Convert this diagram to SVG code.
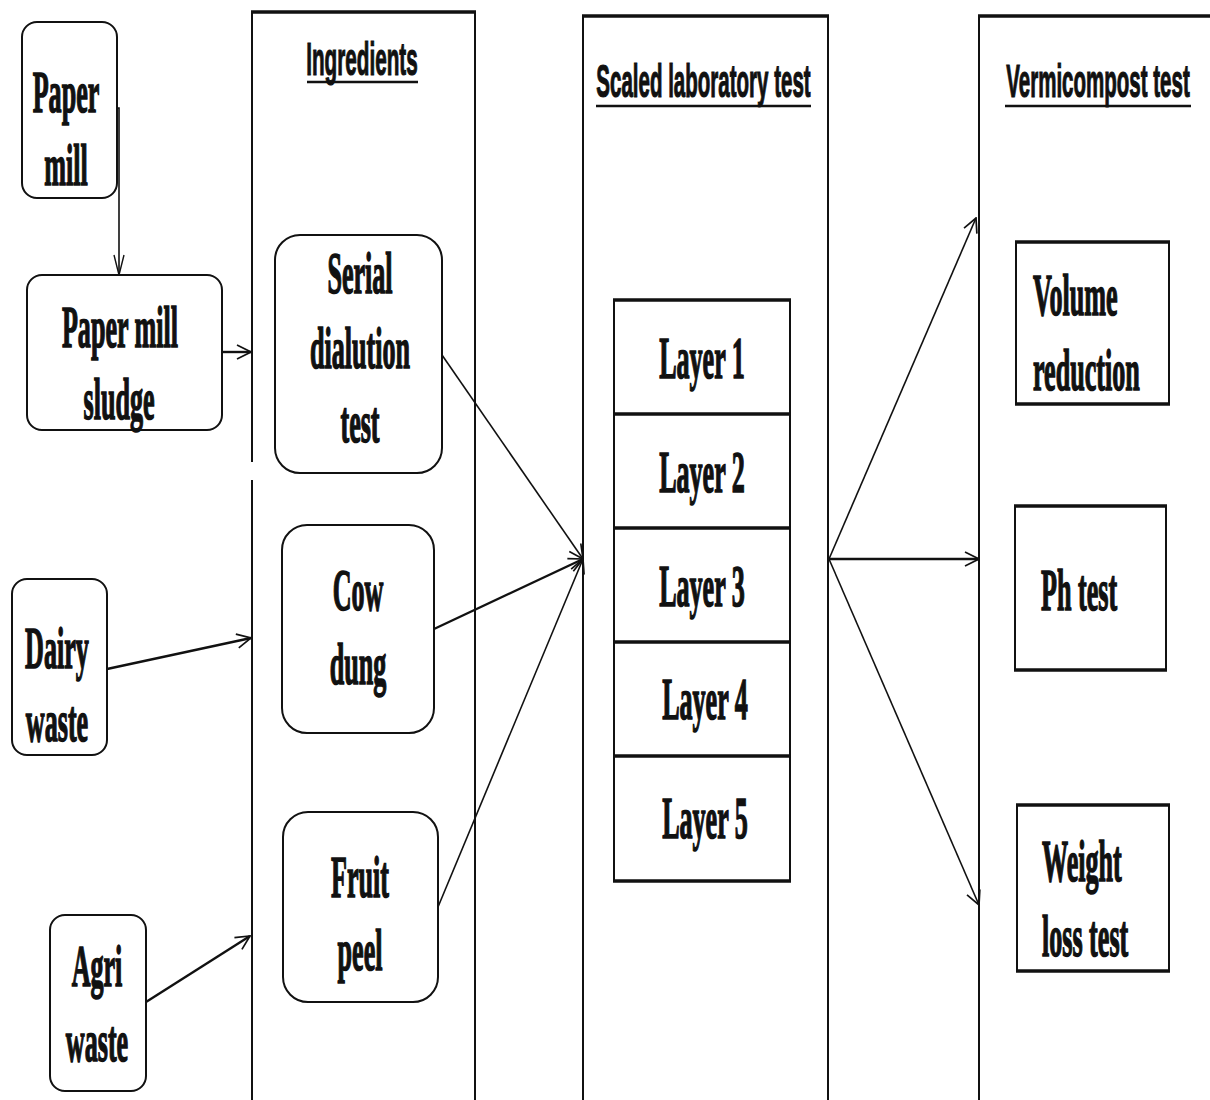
<svg xmlns="http://www.w3.org/2000/svg" width="1210" height="1100" viewBox="0 0 1210 1100">
<defs>
<style>
.bg{fill:#fff}
.node{fill:#fff;stroke:#111;stroke-width:2}
.panel{fill:none;stroke:#111;stroke-width:2}
.thick{stroke:#111;stroke-width:3.5;fill:none}
.t{font-family:"Liberation Serif","Times New Roman",serif;font-weight:bold;font-size:60px;fill:#111;stroke:#111;stroke-width:1.6}
.c{text-anchor:middle}
.h{font-family:"Liberation Sans",Arial,sans-serif;font-weight:bold;font-size:46px;fill:#111;stroke:#111;stroke-width:1.2;text-anchor:middle}
.ul{stroke:#111;stroke-width:2.5}
.conn{fill:none;stroke:#111;stroke-width:1.6}
.connb{fill:none;stroke:#111;stroke-width:2.4}
</style>
<marker id="ah" viewBox="0 0 16 16" refX="15" refY="8" markerWidth="16" markerHeight="16" markerUnits="userSpaceOnUse" orient="auto">
<path d="M1,1 L15,8 L1,15" fill="none" stroke="#111" stroke-width="1.7"/>
</marker>
<marker id="ahn" viewBox="0 0 22 12" refX="21" refY="6" markerWidth="22" markerHeight="12" markerUnits="userSpaceOnUse" orient="auto">
<path d="M1,1 L21,6 L1,11" fill="none" stroke="#111" stroke-width="1.4"/>
</marker>
</defs>
<rect class="bg" x="0" y="0" width="1210" height="1100"/>

<g id="panel-ingredients">
<path class="panel" d="M252,1100 V480 M252,462 V12 H475 V1100"/>
<line class="thick" x1="251" y1="12" x2="476" y2="12"/>
<text class="h" transform="translate(362,75) scale(0.45,1)">Ingredients</text>
<line class="ul" x1="307" y1="82" x2="418" y2="82"/>
</g>
<g id="panel-lab">
<path class="panel" d="M583,1100 V16 H828 V1100"/>
<line class="thick" x1="582" y1="16" x2="829" y2="16"/>
<text class="h" transform="translate(703.5,97) scale(0.446,1)">Scaled laboratory test</text>
<line class="ul" x1="596" y1="106" x2="811" y2="106"/>
</g>
<g id="panel-vermi">
<path class="panel" d="M979,1100 V16 H1212"/>
<line class="thick" x1="978" y1="16" x2="1212" y2="16"/>
<text class="h" transform="translate(1098,97) scale(0.446,1)">Vermicompost test</text>
<line class="ul" x1="1005" y1="106" x2="1191" y2="106"/>
</g>

<g id="paper-mill">
<rect class="node" x="22" y="22" width="95" height="176" rx="15"/>
<text class="t c" transform="translate(66,112) scale(0.435,1)">Paper</text>
<text class="t c" transform="translate(66,185) scale(0.435,1)">mill</text>
</g>
<g id="paper-mill-sludge">
<rect class="node" x="27" y="275" width="195" height="155" rx="15"/>
<text class="t c" transform="translate(120,347) scale(0.435,1)">Paper mill</text>
<text class="t c" transform="translate(119,419) scale(0.435,1)">sludge</text>
</g>
<g id="dairy-waste">
<rect class="node" x="12" y="579" width="95" height="176" rx="15"/>
<text class="t c" transform="translate(57,668) scale(0.435,1)">Dairy</text>
<text class="t c" transform="translate(57,741) scale(0.435,1)">waste</text>
</g>
<g id="agri-waste">
<rect class="node" x="50" y="915" width="96" height="176" rx="15"/>
<text class="t c" transform="translate(97,986) scale(0.435,1)">Agri</text>
<text class="t c" transform="translate(97,1061) scale(0.435,1)">waste</text>
</g>

<g id="serial-dialution">
<rect class="node" x="275" y="235" width="167" height="238" rx="25"/>
<text class="t c" transform="translate(360,293) scale(0.435,1)">Serial</text>
<text class="t c" transform="translate(360,368) scale(0.435,1)">dialution</text>
<text class="t c" transform="translate(360,442) scale(0.435,1)">test</text>
</g>
<g id="cow-dung">
<rect class="node" x="282" y="525" width="152" height="208" rx="25"/>
<text class="t c" transform="translate(358,610) scale(0.435,1)">Cow</text>
<text class="t c" transform="translate(358,684) scale(0.435,1)">dung</text>
</g>
<g id="fruit-peel">
<rect class="node" x="283" y="812" width="155" height="190" rx="25"/>
<text class="t c" transform="translate(360,897) scale(0.435,1)">Fruit</text>
<text class="t c" transform="translate(360,970) scale(0.435,1)">peel</text>
</g>

<g id="layers">
<rect class="node" x="614" y="300" width="176" height="581"/>
<line class="thick" x1="613" y1="300" x2="791" y2="300"/>
<line class="thick" x1="613" y1="414" x2="791" y2="414"/>
<line class="thick" x1="613" y1="528" x2="791" y2="528"/>
<line class="thick" x1="613" y1="642" x2="791" y2="642"/>
<line class="thick" x1="613" y1="756" x2="791" y2="756"/>
<line class="thick" x1="613" y1="881" x2="791" y2="881"/>
<text class="t c" transform="translate(702,378) scale(0.435,1)">Layer 1</text>
<text class="t c" transform="translate(702,492) scale(0.435,1)">Layer 2</text>
<text class="t c" transform="translate(702,606) scale(0.435,1)">Layer 3</text>
<text class="t c" transform="translate(705,719) scale(0.435,1)">Layer 4</text>
<text class="t c" transform="translate(705,838) scale(0.435,1)">Layer 5</text>
</g>

<g id="volume-reduction">
<rect class="node" x="1016" y="242" width="153" height="162"/>
<line class="thick" x1="1015" y1="242" x2="1170" y2="242"/>
<line class="thick" x1="1015" y1="404" x2="1170" y2="404"/>
<text class="t" transform="translate(1033,315) scale(0.435,1)">Volume</text>
<text class="t" transform="translate(1033,390) scale(0.435,1)">reduction</text>
</g>
<g id="ph-test">
<rect class="node" x="1015" y="506" width="151" height="164"/>
<line class="thick" x1="1014" y1="506" x2="1167" y2="506"/>
<line class="thick" x1="1014" y1="670" x2="1167" y2="670"/>
<text class="t" transform="translate(1041,610) scale(0.435,1)">Ph test</text>
</g>
<g id="weight-loss">
<rect class="node" x="1017" y="805" width="152" height="166"/>
<line class="thick" x1="1016" y1="805" x2="1170" y2="805"/>
<line class="thick" x1="1016" y1="971" x2="1170" y2="971"/>
<text class="t" transform="translate(1042,881) scale(0.435,1)">Weight</text>
<text class="t" transform="translate(1042,956) scale(0.435,1)">loss test</text>
</g>

<g id="connectors">
<path class="conn" d="M117,108 H119 V275" marker-end="url(#ahn)"/>
<line class="connb" x1="222" y1="352" x2="251" y2="352" marker-end="url(#ah)"/>
<line class="connb" x1="107" y1="669" x2="251" y2="638" marker-end="url(#ah)"/>
<line class="connb" x1="146" y1="1002" x2="250" y2="936" marker-end="url(#ah)"/>
<line class="conn" x1="442" y1="355" x2="583" y2="559" marker-end="url(#ah)"/>
<line class="connb" x1="434" y1="629" x2="583" y2="559" marker-end="url(#ah)"/>
<line class="conn" x1="438" y1="907" x2="583" y2="559" marker-end="url(#ah)"/>
<line class="conn" x1="829" y1="559" x2="976" y2="218" marker-end="url(#ah)"/>
<line class="connb" x1="829" y1="559" x2="979" y2="559" marker-end="url(#ah)"/>
<line class="conn" x1="829" y1="559" x2="979" y2="905" marker-end="url(#ah)"/>
</g>
</svg>
